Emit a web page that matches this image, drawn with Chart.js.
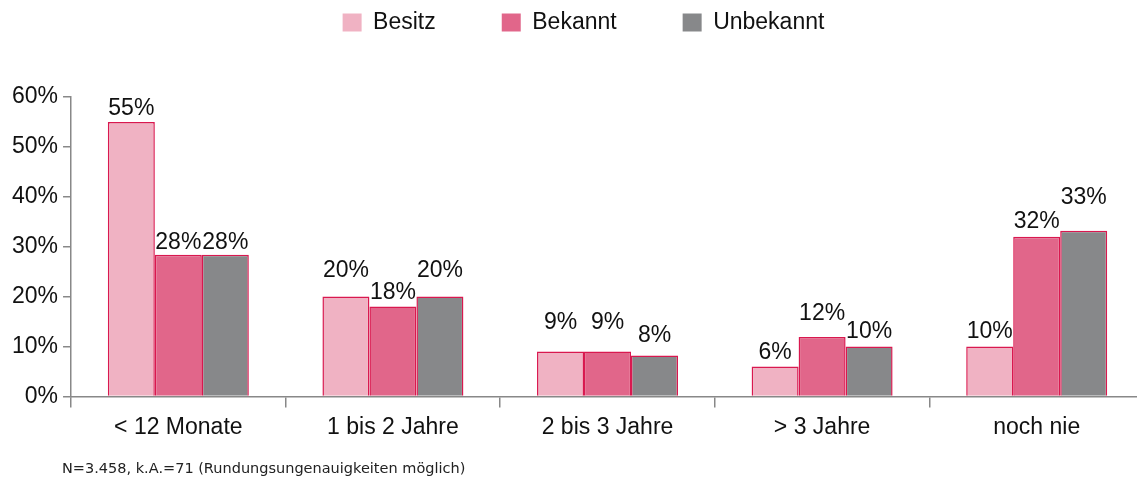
<!DOCTYPE html>
<html lang="de">
<head>
    <meta charset="UTF-8">
    <title>Besitz / Bekannt / Unbekannt</title>
    <script src="https://cdn.jsdelivr.net/npm/chart.js"></script>
    <style>
        html, body { margin: 0; padding: 0; background: #fff; overflow: hidden; }
        #wrap { position: relative; width: 1144px; height: 484px; }
        #note {
            position: absolute; left: 62px; top: 460px;
            font: 14.5px "DejaVu Sans", sans-serif; color: #222;
        }
    </style>
</head>
<body>
    <div id="wrap">
        <canvas id="chart" width="1144" height="484"></canvas>
        <div id="note">N=3.458, k.A.=71 (Rundungsungenauigkeiten möglich)</div>
    </div>

    <script>
        // data
        const categories = ['< 12 Monate', '1 bis 2 Jahre', '2 bis 3 Jahre', '> 3 Jahre', 'noch nie'];
        const besitz = [55, 20, 9, 6, 10];
        const bekannt = [28.4, 18, 9, 11.9, 32];
        const unbekannt = [28.4, 20, 8.2, 10, 33.2];
        const yTicks = [0, 10, 20, 30, 40, 50, 60];

        // how high each value label sits above its bar (px)
        const labelGap = [
            [7, 20, 22, 7, 9],
            [6, 8, 22, 17, 9],
            [6, 20, 13, 9, 27]
        ];

        const FONT = 'Arial, "Liberation Sans", sans-serif';
        const SIZE = 23;
        const border = '#d9184f';

        const valueLabels = {
            id: 'valueLabels',
            afterDatasetsDraw(chart) {
                const ctx = chart.ctx;
                ctx.save();
                ctx.font = SIZE + 'px ' + FONT;
                ctx.fillStyle = '#111';
                ctx.textAlign = 'center';
                ctx.textBaseline = 'alphabetic';
                chart.data.datasets.forEach((ds, d) => {
                    chart.getDatasetMeta(d).data.forEach((bar, i) => {
                        ctx.fillText(Math.round(ds.data[i]) + '%', bar.x, bar.y - labelGap[d][i]);
                    });
                });
                ctx.restore();
            }
        };

        // legend: keep the wide item spacing but pull it up to the top edge
        const legendPlace = {
            id: 'legendPlace',
            beforeInit(chart) {
                const fit = chart.legend.fit;
                chart.legend.fit = function () {
                    fit.bind(chart.legend)();
                    this.height -= 2;
                };
            },
            afterLayout(chart) {
                const lg = chart.legend;
                lg.left += 8; lg.right += 8;
                lg.top -= 55; lg.bottom -= 55;
            }
        };

        new Chart(document.getElementById('chart'), {
            type: 'bar',
            data: {
                labels: categories,
                datasets: [
                    { label: 'Besitz', data: besitz, backgroundColor: '#f0b2c3' },
                    { label: 'Bekannt', data: bekannt, backgroundColor: '#e1668a' },
                    { label: 'Unbekannt', data: unbekannt, backgroundColor: '#87888a' }
                ].map(ds => Object.assign(ds, {
                    borderColor: border,
                    borderWidth: 1.5,
                    categoryPercentage: 0.657,
                    barPercentage: 1
                }))
            },
            options: {
                responsive: false,
                animation: false,
                layout: { padding: { left: 7, right: 0, top: 0, bottom: 37 } },
                plugins: {
                    legend: {
                        position: 'top',
                        labels: {
                            boxWidth: 19,
                            boxHeight: 18,
                            padding: 66,
                            color: '#111',
                            font: { family: FONT, size: SIZE },
                            generateLabels: chart =>
                                Chart.defaults.plugins.legend.labels.generateLabels(chart)
                                    .map(l => Object.assign(l, { lineWidth: 0, strokeStyle: 'rgba(0,0,0,0)' }))
                        }
                    },
                    tooltip: { enabled: false }
                },
                scales: {
                    x: {
                        offset: true,
                        grid: {
                            offset: true,
                            drawOnChartArea: false,
                            drawTicks: true,
                            tickLength: 11,
                            color: '#888',
                            lineWidth: 1.5
                        },
                        border: { color: '#888', width: 1.5 },
                        ticks: {
                            color: '#111',
                            padding: 6,
                            maxRotation: 0,
                            font: { family: FONT, size: SIZE }
                        }
                    },
                    y: {
                        min: 0,
                        max: 60,
                        afterBuildTicks(axis) {
                            axis.ticks = yTicks.map(v => ({ value: v }));
                        },
                        grid: {
                            drawOnChartArea: false,
                            drawTicks: true,
                            tickLength: 8,
                            color: '#888',
                            lineWidth: 1.5
                        },
                        border: { color: '#888', width: 1.5 },
                        ticks: {
                            color: '#111',
                            padding: 5,
                            font: { family: FONT, size: SIZE },
                            callback: v => v + '%'
                        }
                    }
                }
            },
            plugins: [valueLabels, legendPlace]
        });
    </script>
</body>
</html>
